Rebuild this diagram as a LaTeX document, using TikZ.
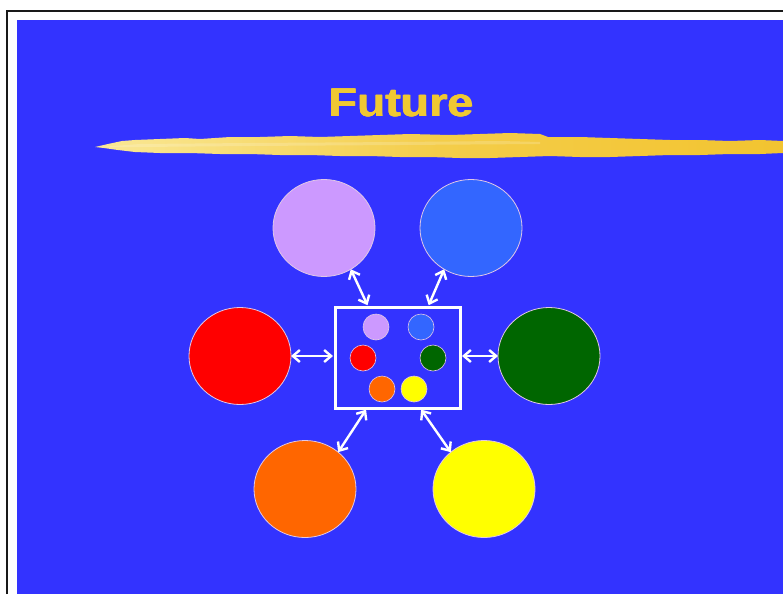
\documentclass[tikz,border=0pt]{standalone}
\usepackage{fontspec}
\newfontfamily\titlefont{Liberation Sans}
\usetikzlibrary{shapes.geometric,arrows.meta}
\definecolor{bgblue}{RGB}{51,51,255}
\definecolor{lav}{RGB}{204,153,255}
\definecolor{lblue}{RGB}{51,102,255}
\definecolor{cred}{RGB}{255,0,0}
\definecolor{cgreen}{RGB}{0,102,0}
\definecolor{corange}{RGB}{255,102,0}
\definecolor{cyellow}{RGB}{255,255,0}
\definecolor{gold}{RGB}{242,196,48}
\definecolor{titlegold}{RGB}{240,200,50}
\definecolor{paleg}{RGB}{250,232,150}
\definecolor{rimc}{RGB}{225,200,230}
\newcommand{\heavytext}[1]{\rlap{\kern0.7pt #1}\rlap{\raisebox{0.5pt}{#1}}\rlap{\kern0.35pt\raisebox{0.5pt}{#1}}#1}
\tikzset{
  bigell/.style={ellipse, draw=rimc, line width=0.8pt, inner sep=0pt, outer sep=0pt, minimum width=102pt, minimum height=97pt},
  dot/.style={circle, draw=rimc, line width=0.6pt, inner sep=0pt, minimum size=26pt},
  link/.style={draw=white, line width=2.4pt, {Straight Barb[length=7pt,width=12pt,line width=2.4pt]}-{Straight Barb[length=7pt,width=12pt,line width=2.4pt]}},
}
\begin{document}
\begin{tikzpicture}[x=1pt,y=-1pt]
\useasboundingbox (0,0) rectangle (783,594);
\fill[white] (0,0) rectangle (783,594);
\draw[black!90, line width=2.5pt] (7,594) -- (7,11) -- (783,11);
\fill[bgblue] (17,20) rectangle (783,594);
% title
\node (title) at (401,103) {\titlefont\fontsize{40}{40}\selectfont\bfseries\color{titlegold}\scalebox{1.16}[1]{\heavytext{Future}}};
% brush stroke
\shade[left color=paleg, right color=gold, middle color=gold!75!paleg]
  (95,147) -- (108,144) -- (122,141) -- (135,140) -- (160,139) -- (185,138) -- (200,139) -- (230,137) -- (260,137) -- (290,136) -- (320,137) -- (350,136) -- (380,135) -- (410,134) -- (450,135) -- (480,134) -- (510,133) -- (540,134) -- (548,137) -- (580,137) -- (610,138) -- (640,139) -- (670,140) -- (700,140) -- (730,141) -- (760,140) -- (783,141)
  -- (783,153) -- (760,154) -- (730,154) -- (700,155) -- (670,155) -- (640,156) -- (610,157) -- (580,157) -- (550,156) -- (520,157) -- (490,158) -- (460,158) -- (430,157) -- (400,157) -- (370,156) -- (340,156) -- (310,155) -- (280,155) -- (250,154) -- (220,154) -- (190,153) -- (160,153) -- (135,152) -- (118,150) -- (104,148) -- cycle;
\fill[white, opacity=0.18] (100,147) -- (140,144) -- (250,143) -- (400,142) -- (500,141) -- (540,142) -- (540,144) -- (400,145) -- (250,146) -- (140,147) -- cycle;
% big ellipses
\node[bigell, fill=lav] (lav) at (324,228) {};
\node[bigell, fill=lblue] (lblue) at (471,228) {};
\node[bigell, fill=cred] (red) at (240,356) {};
\node[bigell, fill=cgreen] (green) at (549,356) {};
\node[bigell, fill=corange] (orange) at (305,489) {};
\node[bigell, fill=cyellow] (yellow) at (484,489) {};
% centre box
\node[draw=white, line width=3pt, minimum width=125pt, minimum height=101pt, inner sep=0pt, outer sep=0pt] (box) at (397.5,357.5) {};
\node[dot, fill=lav] (dlav) at (376,327) {};
\node[dot, fill=lblue] (dlblue) at (421,327) {};
\node[dot, fill=cred] (dred) at (363,358) {};
\node[dot, fill=cgreen] (dgreen) at (433,358) {};
\node[dot, fill=corange] (dorange) at (382,389) {};
\node[dot, fill=cyellow] (dyellow) at (414,389) {};
% links
\draw[link, shorten >=2pt] (lav.-57) -- (box.120);
\draw[link, shorten >=2pt] (lblue.-123) -- (box.59);
\draw[link, shorten >=2pt] (red.east) -- (red.east -| box.west);
\draw[link, shorten >=2pt] (green.west) -- (green.west -| box.east);
\draw[link, shorten >=2pt] (orange.48) -- (box.-121);
\draw[link, shorten >=2pt] (yellow.132) -- (box.-66);
\end{tikzpicture}
\end{document}
